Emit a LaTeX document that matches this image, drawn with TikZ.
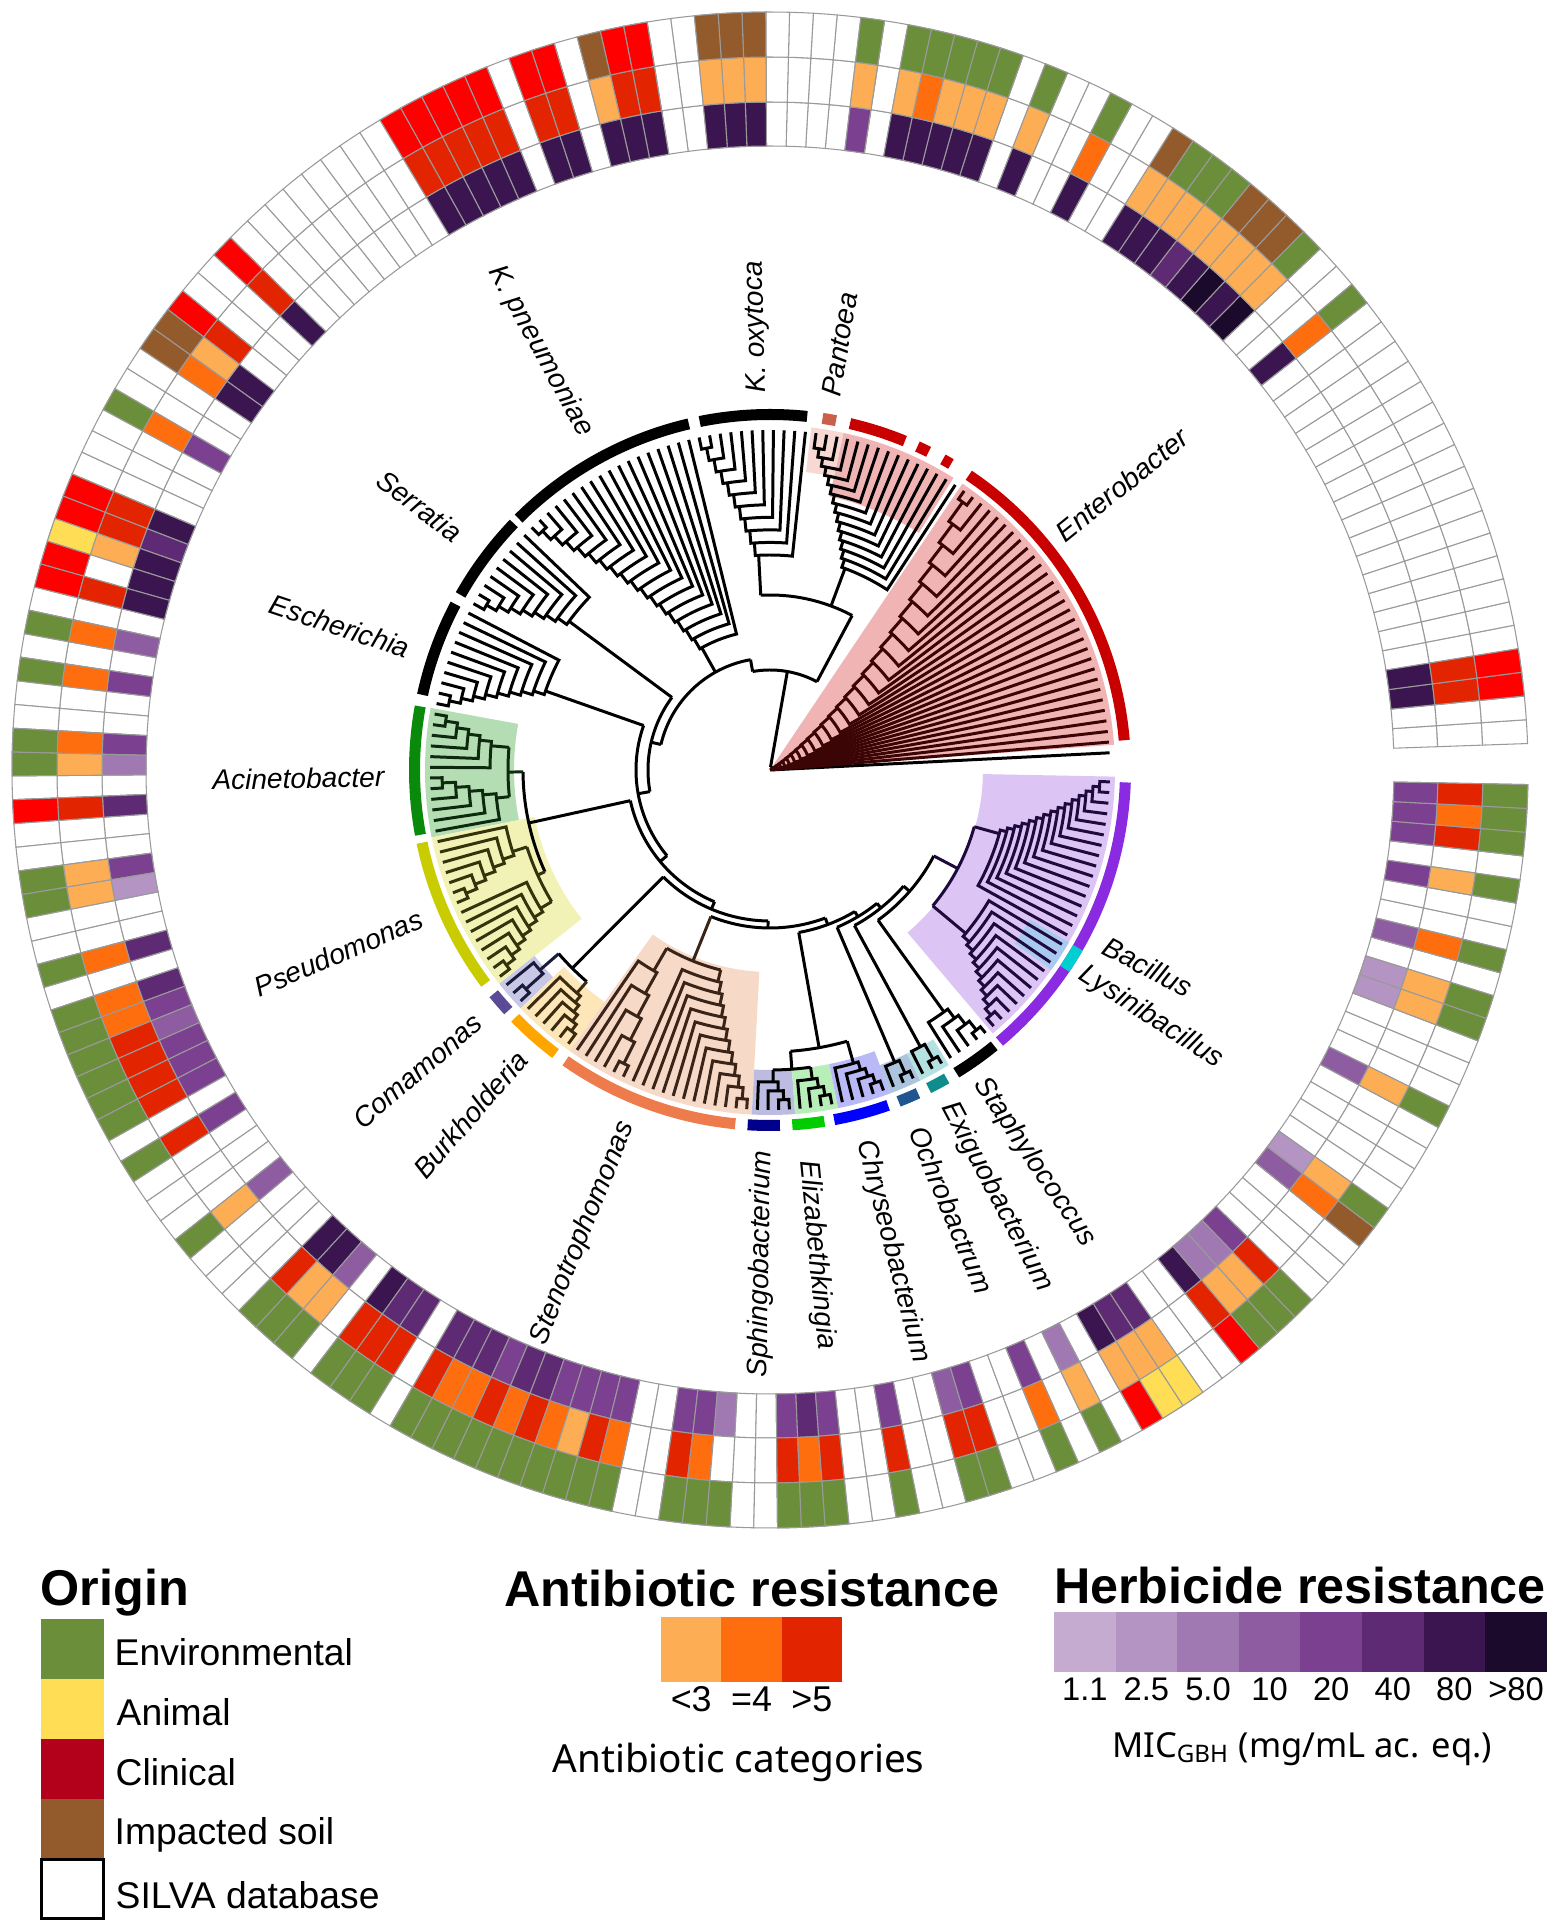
\documentclass[tikz,border=0pt]{standalone}
\usepackage{fontspec}
\setmainfont{Liberation Sans}
\newfontfamily\notof{Noto Sans}

\definecolor{gridc}{HTML}{9A9A9A}
\definecolor{oE}{HTML}{6B8E3B}
\definecolor{oA}{HTML}{FFDD55}
\definecolor{oC}{HTML}{FF0000}
\definecolor{oI}{HTML}{935A2C}
\definecolor{oW}{HTML}{FFFFFF}
\definecolor{a0}{HTML}{FFFFFF}
\definecolor{a3}{HTML}{FDAE55}
\definecolor{a4}{HTML}{FF6E0E}
\definecolor{a5}{HTML}{E32400}
\definecolor{h0}{HTML}{FFFFFF}
\definecolor{h1}{HTML}{C6ABD1}
\definecolor{h2}{HTML}{B394C3}
\definecolor{h3}{HTML}{A179B2}
\definecolor{h4}{HTML}{8E5CA0}
\definecolor{h5}{HTML}{7B408F}
\definecolor{h6}{HTML}{5F2A74}
\definecolor{h7}{HTML}{3B1550}
\definecolor{h8}{HTML}{1C0A2C}
\definecolor{legclin}{HTML}{B3001B}
% shading
\definecolor{entpink}{HTML}{F0B4B4}
\definecolor{pantpink}{HTML}{F8D8D2}
\definecolor{acigreen}{HTML}{B4DDB4}
\definecolor{pseyel}{HTML}{F2F2B6}
\definecolor{comlav}{HTML}{C8C8E6}
\definecolor{burpeach}{HTML}{FDE6B8}
\definecolor{stepeach}{HTML}{F7D9C7}
\definecolor{sphlav}{HTML}{BCBCE2}
\definecolor{eligreen}{HTML}{B8EEB8}
\definecolor{chrblue}{HTML}{B9B9F8}
\definecolor{ochblue}{HTML}{ADC4DE}
\definecolor{exiteal}{HTML}{B6E1E1}
\definecolor{baclav}{HTML}{DCC4F4}
\definecolor{lysblue}{HTML}{A8CAEE}
% bars
\definecolor{barred}{HTML}{C80000}
\definecolor{barpant}{HTML}{C8604A}
\definecolor{baraci}{HTML}{0A8A0A}
\definecolor{barpse}{HTML}{C8CC00}
\definecolor{barcom}{HTML}{5B4A96}
\definecolor{barbur}{HTML}{FFA500}
\definecolor{barste}{HTML}{EE7B4B}
\definecolor{barsph}{HTML}{00008B}
\definecolor{bareli}{HTML}{00CC00}
\definecolor{barchr}{HTML}{0000FF}
\definecolor{baroch}{HTML}{1F5590}
\definecolor{barexi}{HTML}{0F8C8C}
\definecolor{barbac}{HTML}{8A2BE2}
\definecolor{barlys}{HTML}{00CED1}
% tree line tints
\definecolor{entline}{HTML}{3C0505}
\definecolor{aciline}{HTML}{0E2A0E}
\definecolor{pseline}{HTML}{33330C}
\definecolor{steline}{HTML}{3A2418}
\definecolor{bacline}{HTML}{1E0A3C}
\definecolor{burline}{HTML}{3A2A10}
\definecolor{comline}{HTML}{1A1A3A}

\def\RL{340}

% ring cell: #1 k, #2 r1, #3 r2, #4 colour
\newcommand\ringcell[4]{%
 \pgfmathsetmacro\angA{2+1.8025*#1}%
 \pgfmathsetmacro\angB{2+1.8025*(#1+1)}%
 \filldraw[fill=#4,draw=gridc,line width=0.3pt] (\angA:#2) arc[start angle=\angA,end angle=\angB,radius=#2] -- (\angB:#3) arc[start angle=\angB,end angle=\angA,radius=#3] -- cycle;}

% clade shading: #1 first, #2 last, #3 rin, #4 rout, #5 colour
\newcommand\cshade[5]{%
 \pgfmathsetmacro\angA{2+1.8025*#1}%
 \pgfmathsetmacro\angB{2+1.8025*(#2+1)}%
 \fill[#5] (\angA:#3) arc[start angle=\angA,end angle=\angB,radius=#3] -- (\angB:#4) arc[start angle=\angB,end angle=\angA,radius=#4] -- cycle;}

% clade bar
\newcommand\cbar[3]{\draw[line width=3.13pt,#3] (#1:355.5) arc[start angle=#1,end angle=#2,radius=355.5];}

% ascending caterpillar: leaf #1 branches first
\newcommand\catup[7]{%
 \pgfmathsetmacro\cLast{2+1.8025*(#2+0.5)}%
 \pgfmathtruncatemacro\nN{#2-#1}%
 \pgfmathsetmacro\aRoot{(2+1.8025*(#1+0.5)+\cLast)/2}%
 \draw[#7] (\aRoot:#6) -- (\aRoot:#3);%
 \pgfmathtruncatemacro\jL{#2-1}%
 \foreach \j in {#1,...,\jL}{%
   \pgfmathsetmacro\cj{2+1.8025*(\j+0.5)}%
   \pgfmathsetmacro\tj{(\j-#1)/max(\nN-1,1)}%
   \pgfmathsetmacro\rj{#3+(#4-#3)*(#5*\tj+(1-#5)*\tj*\tj)}%
   \pgfmathtruncatemacro\jn{\j+1}%
   \ifnum\jn<#2\relax
     \pgfmathsetmacro\an{(2+1.8025*(\jn+0.5)+\cLast)/2}%
     \pgfmathsetmacro\tn{(\jn-#1)/max(\nN-1,1)}%
     \pgfmathsetmacro\rn{#3+(#4-#3)*(#5*\tn+(1-#5)*\tn*\tn)}%
   \else
     \pgfmathsetmacro\an{\cLast}%
     \def\rn{\RL}%
   \fi
   \draw[#7] (\cj:\RL) -- (\cj:\rj) arc[start angle=\cj,end angle=\an,radius=\rj] -- (\an:\rn);%
 }%
}

% descending caterpillar: leaf #2 branches first
\newcommand\catdown[7]{%
 \pgfmathsetmacro\cFirst{2+1.8025*(#1+0.5)}%
 \pgfmathtruncatemacro\nN{#2-#1}%
 \pgfmathsetmacro\aRoot{(\cFirst+2+1.8025*(#2+0.5))/2}%
 \draw[#7] (\aRoot:#6) -- (\aRoot:#3);%
 \pgfmathtruncatemacro\iL{\nN-1}%
 \foreach \i in {0,...,\iL}{%
   \pgfmathtruncatemacro\jj{#2-\i}%
   \pgfmathsetmacro\cj{2+1.8025*(\jj+0.5)}%
   \pgfmathsetmacro\tj{\i/max(\nN-1,1)}%
   \pgfmathsetmacro\rj{#3+(#4-#3)*(#5*\tj+(1-#5)*\tj*\tj)}%
   \pgfmathtruncatemacro\jn{\jj-1}%
   \ifnum\jn>#1\relax
     \pgfmathsetmacro\an{(\cFirst+2+1.8025*(\jn+0.5))/2}%
     \pgfmathsetmacro\tn{(\i+1)/max(\nN-1,1)}%
     \pgfmathsetmacro\rn{#3+(#4-#3)*(#5*\tn+(1-#5)*\tn*\tn)}%
   \else
     \pgfmathsetmacro\an{\cFirst}%
     \def\rn{\RL}%
   \fi
   \draw[#7] (\cj:\RL) -- (\cj:\rj) arc[start angle=\cj,end angle=\an,radius=\rj] -- (\an:\rn);%
 }%
}

\newcommand\narc[4]{\draw[#4] (#2:#1) arc[start angle=#2,end angle=#3,radius=#1];}
\newcommand\stem[4]{\draw[#4] (#1:#2) -- (#1:#3);}

\begin{document}
\begin{tikzpicture}[x=0.01cm,y=0.01cm,
  tl/.style={line width=0.85pt,color=black,line join=miter},
  tlent/.style={tl,color=entline},
  tlaci/.style={tl,color=aciline},
  tlpse/.style={tl,color=pseline},
  tlste/.style={tl,color=steline},
  tlbac/.style={tl,color=bacline},
  tlbur/.style={tl,color=burline},
  tlcom/.style={tl,color=comline},
  ilbl/.style={font=\fontsize{8}{9.6}\selectfont\itshape,inner sep=0pt},
  legtitle/.style={font=\fontsize{14.3}{17}\selectfont\bfseries,inner sep=0pt},
  legitem/.style={font=\fontsize{10.6}{12.7}\selectfont,inner sep=0pt,anchor=base west},
  tick/.style={font=\fontsize{9}{10.8}\selectfont,inner sep=0pt,anchor=base},
  notecap/.style={font=\notof\fontsize{11}{13}\selectfont,inner sep=0pt,anchor=base}]

\useasboundingbox (-770,-1161) rectangle (789,770);
\fill[white] (-770,-1161) rectangle (789,770);

% ---------------- ring ----------------
\foreach \k in {0,...,197}{%
  \ringcell{\k}{624}{668}{white}\ringcell{\k}{668}{713}{white}\ringcell{\k}{713}{758}{white}}
\foreach \kk/\vo/\va/\vh in {2/C/5/7,3/C/5/7,20/E/4/7,23/E/3/8,24/I/3/7,25/I/3/8,26/I/3/7,27/E/3/6,28/E/3/7,29/E/3/7,30/I/3/7,33/E/4/7,36/E/3/7,38/E/3/7,39/E/3/7,40/E/3/7,41/E/4/7,42/E/3/7,44/E/3/5,49/I/3/7,50/I/3/7,51/I/3/7,54/C/5/7,55/C/5/7,56/I/3/7,58/C/5/7,59/C/5/7,61/C/5/7,62/C/5/7,63/C/5/7,64/C/5/7,65/C/5/7,74/C/5/7,77/C/5/0,78/I/3/7,79/I/4/7,82/E/4/5,86/C/5/7,87/C/5/6,88/A/3/7,89/C/0/7,90/C/5/7,92/E/4/4,94/E/4/5,97/E/4/5,98/E/3/3,100/C/5/6,103/E/3/5,104/E/3/2,107/E/4/6,109/E/4/6,110/E/4/5,111/E/5/4,112/E/5/5,113/E/5/5,114/E/5/5,116/E/5/5,120/E/3/4,124/E/5/7,125/E/3/7,126/E/3/4,128/E/5/7,129/E/5/6,130/E/5/6,132/E/5/6,133/E/4/6,134/E/4/6,135/E/5/5,136/E/4/6,137/E/5/6,138/E/4/5,139/E/3/5,140/E/5/5,141/E/4/5,144/E/5/5,145/E/4/5,146/E/0/3,149/E/5/5,150/E/4/6,151/E/5/5,154/E/5/5,157/E/5/4,158/E/5/5,161/E/4/5,163/E/3/3,165/C/3/7,166/A/3/6,167/A/3/6,170/C/5/7,171/E/3/3,172/E/3/3,173/E/5/5,177/I/4/4,178/E/3/2,183/E/3/4,187/E/3/2,188/E/3/2,190/E/4/4,193/E/3/5,195/E/5/5,196/E/4/5,197/E/5/5}{%
  \ringcell{\kk}{624}{668}{h\vh}\ringcell{\kk}{668}{713}{a\va}\ringcell{\kk}{713}{758}{o\vo}}

% ---------------- clade shading ----------------
\fill[entpink] (0,0) -- (4.2:345) arc[start angle=4.2,end angle=56.1,radius=345] -- cycle;
\cshade{31}{41}{280}{345}{entpink}
\cshade{42}{44}{300}{345}{pantpink}
\cshade{93}{104}{256}{345}{acigreen}
\cshade{105}{119}{240}{345}{pseyel}
\cshade{120}{122}{300}{345}{comlav}
\cshade{123}{128}{285}{345}{burpeach}
\cshade{129}{146}{202}{345}{stepeach}
\cshade{147}{150}{300}{345}{sphlav}
\cshade{151}{154}{300}{345}{eligreen}
\cshade{155}{159}{300}{345}{chrblue}
\cshade{160}{162}{315}{345}{ochblue}
\cshade{163}{165}{315}{345}{exiteal}
\cshade{171}{197}{213}{345}{baclav}
\cshade{179}{181}{300}{345}{lysblue}

% ---------------- tree ----------------
\narc{3}{2.90}{80}{tl}
\stem{2.90}{0}{340}{tl}
\catup{1}{29}{4}{330}{0}{0}{tlent}
\stem{80}{3}{100}{tl}
\narc{100}{62}{100}{tl}
% Y : Pantoea group + K. oxytoca
\stem{62}{100}{175}{tl}
\narc{175}{62}{93.03}{tl}
\catup{30}{44}{215}{325}{1}{175}{tl}
\catup{45}{55}{215}{328}{1}{175}{tl}
% S1 : K. pneumoniae
\stem{100}{100}{112}{tl}
\narc{112}{100}{166.85}{tl}
\catup{56}{73}{140}{330}{1}{112}{tl}
% S2 : Serratia
\stem{166.85}{112}{122}{tl}
\narc{122}{143.50}{190.20}{tl}
\catup{74}{82}{250}{328}{1}{122}{tl}
% S3 : Escherichia
\stem{190.20}{122}{134}{tl}
\narc{134}{160.62}{219.78}{tl}
\catup{83}{92}{238}{328}{1}{134}{tl}
% S4 : Acinetobacter + Pseudomonas
\stem{219.78}{134}{143}{tl}
\narc{143}{192.39}{247.16}{tl}
\stem{192.39}{143}{247}{tl}
\narc{247}{180.45}{204.33}{tl}
\stem{180.45}{247}{262}{tlaci}
\narc{262}{175.04}{185.86}{tlaci}
\catdown{93}{98}{280}{328}{1}{262}{tlaci}
\catdown{99}{104}{275}{328}{1}{262}{tlaci}
\stem{204.33}{247}{255}{tlpse}
\narc{255}{197.57}{211.09}{tlpse}
\catup{105}{111}{270}{328}{1}{255}{tlpse}
\catup{112}{119}{268}{328}{1}{255}{tlpse}
% S5 : Comamonas + Burkholderia
\stem{247.16}{143}{151}{tl}
\narc{151}{225.06}{269.26}{tl}
\stem{225.06}{151}{280}{tl}
\narc{280}{221.00}{229.12}{tl}
\catup{120}{122}{305}{328}{1}{280}{tlcom}
\catup{123}{128}{295}{328}{1}{280}{tlbur}
% S6 : Stenotrophomonas
\stem{269.26}{151}{158}{tl}
\narc{158}{248.04}{290.48}{tl}
\stem{248.04}{158}{206}{tlste}
\narc{206}{239.93}{256.15}{tlste}
\catup{129}{134}{232}{328}{1}{206}{tlste}
\catup{135}{146}{218}{330}{1}{206}{tlste}
% S7 : Sphingobacterium, Elizabethkingia, Chryseobacterium
\stem{290.48}{158}{165}{tl}
\narc{165}{280.03}{300.93}{tl}
\stem{280.03}{165}{282}{tl}
\narc{282}{274.18}{285.89}{tl}
\stem{274.18}{282}{300}{tl}
\narc{300}{270.57}{277.78}{tl}
\catup{147}{150}{312}{330}{1}{300}{tl}
\catup{151}{154}{312}{330}{1}{300}{tl}
\catup{155}{159}{305}{330}{1}{282}{tl}
% S8 : Ochrobactrum
\stem{300.93}{165}{171}{tl}
\narc{171}{293.10}{308.76}{tl}
\catup{160}{162}{318}{332}{1}{171}{tl}
% S9 : Exiguobacterium
\stem{308.76}{171}{177}{tl}
\narc{177}{298.51}{319.01}{tl}
\catup{163}{165}{315}{332}{1}{177}{tl}
% S10 : Staphylococcus + Bacillus
\stem{319.01}{177}{185}{tl}
\narc{185}{305.72}{332.31}{tl}
\catup{166}{170}{298}{332}{1}{185}{tl}
\stem{332.31}{185}{212}{tlbac}
\narc{212}{320.14}{344.48}{tlbac}
\catdown{171}{181}{255}{330}{1}{212}{tlbac}
\catup{182}{197}{238}{330}{1}{212}{tlbac}

% ---------------- clade bars ----------------
\cbar{4.8}{56.0}{barred}
\cbar{59.4}{60.9}{barred}
\cbar{63.5}{65.5}{barred}
\cbar{67.7}{77.0}{barred}
\cbar{79.3}{81.5}{barpant}
\cbar{84.0}{101.4}{black}
\cbar{103.2}{135.0}{black}
\cbar{136.1}{150.5}{black}
\cbar{152.2}{167.8}{black}
\cbar{169.7}{190.5}{baraci}
\cbar{191.8}{216.9}{barpse}
\cbar{219.0}{222.6}{barcom}
\cbar{224.2}{232.9}{barbur}
\cbar{234.9}{264.4}{barste}
\cbar{266.4}{271.6}{barsph}
\cbar{273.6}{278.8}{bareli}
\cbar{280.4}{289.4}{barchr}
\cbar{291.2}{294.6}{baroch}
\cbar{296.5}{299.8}{barexi}
\cbar{301.6}{309.1}{black}
\cbar{310.2}{358.0}{barbac}
\cbar{326.0}{330.0}{barlys}

% ---------------- clade labels ----------------
\node[ilbl,anchor=west,rotate=39] (lEnt) at (39:372) {Enterobacter};
\node[ilbl,anchor=west,rotate=80.7] (lPan) at (80.7:378) {Pantoea};
\node[ilbl,anchor=west,rotate=91.7] (lKox) at (91.7:377) {K. oxytoca};
\node[ilbl,anchor=east,rotate=-61.3] (lKpn) at (118.7:382) {K. pneumoniae};
\node[ilbl,anchor=east,rotate=-37] (lSer) at (143:389) {Serratia};
\node[ilbl,anchor=east,rotate=-18.5] (lEsc) at (161.5:380) {Escherichia};
\node[ilbl,anchor=east,rotate=1] (lAci) at (181:385) {Acinetobacter};
\node[ilbl,anchor=east,rotate=23] (lPse) at (203:378) {Pseudomonas};
\node[ilbl,anchor=east,rotate=40.5] (lCom) at (220.5:383) {Comamonas};
\node[ilbl,anchor=east,rotate=49] (lBur) at (229:377) {Burkholderia};
\node[ilbl,anchor=east,rotate=68] (lSte) at (248:380) {Stenotrophomonas};
\node[ilbl,anchor=east,rotate=89] (lSph) at (269:380) {Sphingobacterium};
\node[ilbl,anchor=west,rotate=-84.5] (lEli) at (275.5:392) {Elizabethkingia};
\node[ilbl,anchor=west,rotate=-75.7] (lChr) at (284.3:382) {Chryseobacterium};
\node[ilbl,anchor=west,rotate=-67.6] (lOch) at (292.4:386) {Ochrobactrum};
\node[ilbl,anchor=west,rotate=-62] (lExi) at (298:378) {Exiguobacterium};
\node[ilbl,anchor=west,rotate=-56] (lSta) at (304:374) {Staphylococcus};
\node[ilbl,anchor=west,rotate=-27.5] (lBac) at (332.5:377) {Bacillus};
\node[ilbl,anchor=west,rotate=-33] (lLys) at (327:371) {Lysinibacillus};

% ---------------- legend: origin ----------------
\node[legtitle,anchor=base west] (tOrig) at (-730,-835) {Origin};
\fill[oE] (-729,-849) rectangle (-666,-909);
\fill[oA] (-729,-909) rectangle (-666,-969);
\fill[legclin] (-729,-969) rectangle (-666,-1029);
\fill[oI] (-729,-1029) rectangle (-666,-1089);
\draw[line width=0.6pt,fill=white] (-728.5,-1089.5) rectangle (-666.5,-1148.5);
\node[legitem] (iEnv) at (-656,-895) {Environmental};
\node[legitem] (iAni) at (-654,-955) {Animal};
\node[legitem] (iCli) at (-655,-1015) {Clinical};
\node[legitem] (iImp) at (-656,-1074) {Impacted soil};
\node[legitem] (iSil) at (-655,-1138) {SILVA database};

% ---------------- legend: antibiotic ----------------
\node[legtitle,anchor=base] (tAnt) at (-18,-836) {Antibiotic resistance};
\fill[a3] (-109,-847) rectangle (-48.7,-912);
\fill[a4] (-48.7,-847) rectangle (11.7,-912);
\fill[a5] (11.7,-847) rectangle (72,-912);
\node[tick,font=\fontsize{10.2}{12}\selectfont] (k1) at (-78.8,-941) {<3};
\node[tick,font=\fontsize{10.2}{12}\selectfont] (k2) at (-18.5,-941) {=4};
\node[tick,font=\fontsize{10.2}{12}\selectfont] (k3) at (41.8,-941) {>5};
\node[notecap] (cAnt) at (-31.5,-1002) {Antibiotic categories};

% ---------------- legend: herbicide ----------------
\node[legtitle,anchor=base] (tHer) at (530,-833) {Herbicide resistance};
\foreach \c [count=\n from 0] in {h1,h2,h3,h4,h5,h6,h7,h8}{%
  \fill[\c] ({284+61.6*\n},-842) rectangle ({284+61.6*(\n+1)},-902);}
\foreach \t [count=\n from 0] in {1.1,2.5,5.0,10,20,40,80,>80}{%
  \node[tick,font=\fontsize{9.3}{11}\selectfont] (hk\n) at ({314.8+61.6*\n},-930) {\t};}
\node[notecap,font=\notof\fontsize{9.8}{12}\selectfont] (cHer) at (532,-987) {MIC\textsubscript{GBH} (mg/mL ac. eq.)};

\end{tikzpicture}
\end{document}
